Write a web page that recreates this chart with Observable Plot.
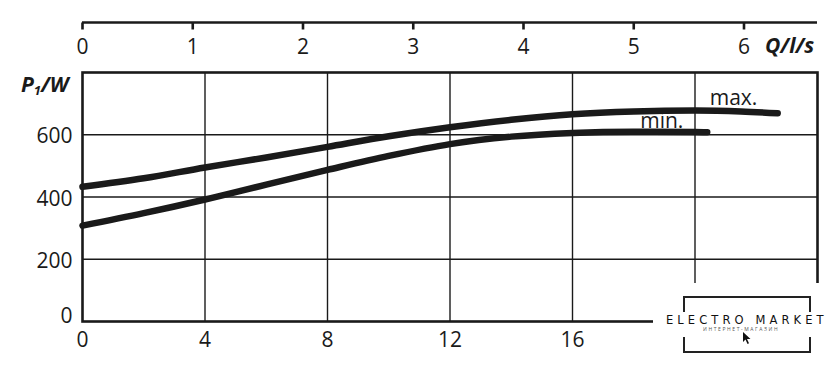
<!DOCTYPE html>
<html>
<head>
<meta charset="utf-8">
<script src="https://cdn.jsdelivr.net/npm/d3@7"></script>
<script src="https://cdn.jsdelivr.net/npm/@observablehq/plot@0.6"></script>
<style>
  html, body { margin: 0; padding: 0; background: #fff; }
  #wrap { position: relative; width: 840px; height: 373px; overflow: hidden; font-family: "Open Sans", sans-serif; color: #1a1a1a; }
  .lbl { position: absolute; font-weight: 700; font-style: italic; font-size: 21px; line-height: 1; white-space: nowrap; }
  #wm { position: absolute; left: 653px; top: 283px; width: 187px; height: 90px; background: #fff; }
  #wm .br { position: absolute; left: 30px; width: 124px; height: 14px; border-left: 2px solid #222; border-right: 2px solid #222; }
  #wm .t { position: absolute; left: 13px; top: 30px; font-size: 11.5px; letter-spacing: 4.1px; font-family: "DejaVu Sans", sans-serif; color: #111; white-space: nowrap; }
  #wm .s { position: absolute; left: 50px; top: 43px; font-size: 5px; letter-spacing: 1.6px; color: #555; white-space: nowrap; }
</style>
</head>
<body>
<div id="wrap">
  <div id="chart"></div>
  <div class="lbl" style="left:21px; top:74px;">P<sub style="font-size:13px; vertical-align:-3px;">1</sub>/W</div>
  <div class="lbl" style="left:765px; top:35px;">Q/l/s</div>
  <div id="wm">
    <div class="br" style="top:13px; border-top:2px solid #222;"></div>
    <div class="t">ELECTRO MARKET</div>
    <div class="s">ИНТЕРНЕТ-МАГАЗИН</div>
    <svg style="position:absolute; left:89px; top:48px;" width="10" height="14" viewBox="0 0 10 14"><path d="M1 1 L1 11 L3.5 8.5 L5.5 13 L7 12.3 L5 8 L8.5 8 Z" fill="#111"/></svg>
    <div class="br" style="top:54px; border-bottom:2px solid #222;"></div>
  </div>
</div>
<script>
// Flow in m³/h (bottom axis) and power input P1 in W
const flowMax  = [0, 2, 4, 6, 8, 10, 12, 14, 16, 18, 20, 21.5, 22.7];
const powerMax = [433, 460, 495, 527, 561, 595, 624, 648, 666, 675, 678, 675, 669];
const flowMin  = [0, 2, 4, 6, 8, 10, 12, 14, 16, 18, 20, 20.4];
const powerMin = [308, 348, 392, 440, 487, 532, 570, 594, 606, 610, 609, 608];

const xTicks = [0, 4, 8, 12, 16, 20];           // m³/h
const qTicks = [0, 1, 2, 3, 4, 5, 6];           // l/s (top axis)
const yTicks = [0, 200, 400, 600];              // W
const xGrid = [4, 8, 12, 16, 20];
const yGrid = [200, 400, 600];
const M3H_PER_LS = 3.6;

const maxData = flowMax.map((x, i) => ({x, y: powerMax[i]}));
const minData = flowMin.map((x, i) => ({x, y: powerMin[i]}));
const ink = "#1a1a1a";

const chart = Plot.plot({
  width: 840,
  height: 373,
  marginTop: 72,
  marginLeft: 82,
  marginRight: 23,
  marginBottom: 52,
  x: {domain: [0, 24]},
  y: {domain: [0, 800]},
  style: {fontFamily: "'Open Sans', sans-serif", fontSize: "21px", color: ink, background: "#fff", overflow: "visible"},
  marks: [
    Plot.gridX(xGrid, {stroke: ink, strokeOpacity: 1, strokeWidth: 1.4}),
    Plot.gridY(yGrid, {stroke: ink, strokeOpacity: 1, strokeWidth: 1.4}),
    Plot.frame({stroke: ink, strokeWidth: 2.6}),
    // bottom axis (m³/h)
    Plot.axisX(xTicks, {anchor: "bottom", tickSize: 0, tickPadding: 11, label: null, fill: ink}),
    // top axis (l/s) drawn with the same x scale
    Plot.ruleY([800], {dy: -50, stroke: ink, strokeWidth: 2.6}),
    Plot.axisX(qTicks.map(q => q * M3H_PER_LS), {anchor: "bottom", dy: -298.5, tickSize: 7, tickPadding: 9, strokeWidth: 2.6, stroke: ink, fill: ink, tickFormat: d => String(Math.round(d / M3H_PER_LS)), label: null}),
    // y axis
    Plot.axisY(yTicks.filter(d => d > 0), {anchor: "left", tickSize: 0, tickPadding: 10, dy: 2, label: null, fill: ink}),
    Plot.axisY([0], {anchor: "left", tickSize: 0, tickPadding: 10, dy: -5, label: null, fill: ink}),
    // curves
    Plot.line(maxData, {x: "x", y: "y", curve: "monotone-x", stroke: ink, strokeWidth: 6.5, strokeLinecap: "round"}),
    Plot.line(minData, {x: "x", y: "y", curve: "monotone-x", stroke: ink, strokeWidth: 6.5, strokeLinecap: "round"}),
    Plot.text(maxData.slice(-1), {x: "x", y: "y", text: () => "max.", textAnchor: "start", lineAnchor: "bottom", dx: -68, dy: -8, fill: ink}),
    Plot.text(minData.slice(-1), {x: "x", y: "y", text: () => "min.", textAnchor: "start", lineAnchor: "bottom", dx: -67, dy: -4, fill: ink})
  ]
});
document.getElementById("chart").appendChild(chart);
</script>
</body>
</html>
